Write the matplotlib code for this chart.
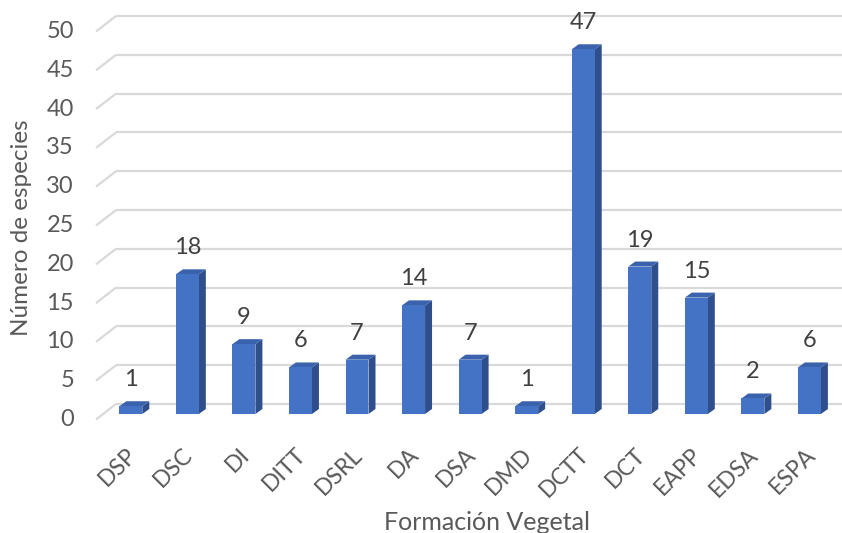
import matplotlib
matplotlib.use("Agg")
import matplotlib.pyplot as plt
from matplotlib.patches import Polygon

categories = ["DSP", "DSC", "DI", "DITT", "DSRL", "DA", "DSA", "DMD",
              "DCTT", "DCT", "EAPP", "EDSA", "ESPA"]
values = [1, 18, 9, 6, 7, 14, 7, 1, 47, 19, 15, 2, 6]
y_ticks = [0, 5, 10, 15, 20, 25, 30, 35, 40, 45, 50]
x_title = "Formación Vegetal"
y_title = "Número de especies"

plt.rcParams["font.family"] = ["Lato", "DejaVu Sans"]

W, H, DPI = 842, 533, 100
fig = plt.figure(figsize=(W / DPI, H / DPI), dpi=DPI)

# pixel geometry of the plotting box
px_left, px_right = 90, 842
px_top, px_bottom = 10, 425
px_zero = 414          # front face baseline of the columns
px_per_unit = 7.76     # vertical pixels per species
px_per_cat = 56.55     # horizontal pixels between categories
px_first = 130.8       # centre of first column

ax = fig.add_axes([px_left / W, (H - px_bottom) / H,
                   (px_right - px_left) / W, (px_bottom - px_top) / H])
ylo = (px_zero - px_bottom) / px_per_unit
yhi = (px_zero - px_top) / px_per_unit
xlo = (px_left - px_first) / px_per_cat
xhi = (px_right - px_first) / px_per_cat
ax.set_xlim(xlo, xhi)
ax.set_ylim(ylo, yhi)
ax.axis("off")

def dxu(px):
    return px / px_per_cat

def dyu(px):
    return px / px_per_unit

# gridlines: back wall plus slanted floor/side edge
grid_col = "#d9d9d9"
wall_x0 = xlo + dxu(116 - px_left)
front_x0 = xlo + dxu(96 - px_left)
back_off = dyu(10)
front_off = -dyu(5.5)
for v in y_ticks:
    ax.plot([wall_x0, xhi], [v + back_off, v + back_off],
            color=grid_col, lw=1.6, solid_capstyle="butt", zorder=1)
    ax.plot([front_x0, wall_x0], [v + front_off, v + back_off],
            color=grid_col, lw=1.6, solid_capstyle="butt", zorder=1)
    ax.text(xlo + dxu(74 - px_left), v + front_off, str(v),
            ha="right", va="center", fontsize=17, color="#595959")

# 3D columns
face_col = "#4472c4"
side_col = "#2f4f8c"
top_col = "#3a62ad"
bw = dxu(23)
ddx = dxu(7)
ddy = dyu(5)
for i, v in enumerate(values):
    x0 = i - bw / 2
    x1 = i + bw / 2
    side = Polygon([(x1, 0), (x1 + ddx, ddy), (x1 + ddx, v + ddy), (x1, v)],
                   closed=True, facecolor=side_col, edgecolor="none", zorder=3)
    top = Polygon([(x0, v), (x1, v), (x1 + ddx, v + ddy), (x0 + ddx, v + ddy)],
                  closed=True, facecolor=top_col, edgecolor="none", zorder=3)
    ax.add_patch(side)
    ax.add_patch(top)
    ax.bar(i, v, width=bw, bottom=0, color=face_col, zorder=4)
    ax.text(i, v + dyu(26.5), str(v), ha="center", va="center",
            fontsize=17, color="#404040")
    ax.text(i - dxu(5), -dyu(30), categories[i], ha="right", va="top",
            rotation=45, rotation_mode="anchor", fontsize=16.5, color="#595959")

fig.text(487 / W, 1 - 522 / H, x_title, ha="center", va="center",
         fontsize=18, color="#595959")
fig.text(22 / W, 1 - 228 / H, y_title, ha="center", va="center",
         rotation=90, fontsize=17.5, color="#595959")

fig.savefig("out.png", dpi=DPI)
